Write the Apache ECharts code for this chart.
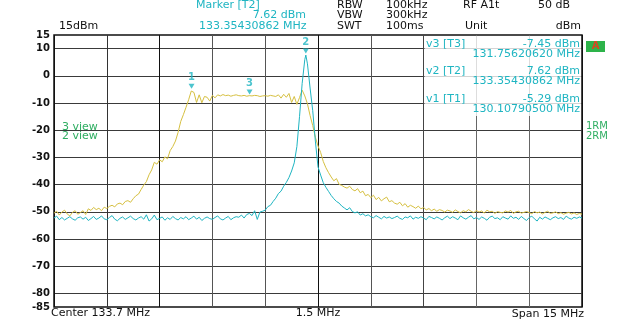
<!DOCTYPE html>
<html>
<head>
<meta charset="utf-8">
<script src="https://cdn.jsdelivr.net/npm/echarts@6/dist/echarts.min.js"></script>
<style>
html, body { margin: 0; padding: 0; background: #fff; }
#chart { width: 640px; height: 320px; }
</style>
</head>
<body>
<div id="chart"></div>
<script>
// sweep: 201 points over the 15 MHz span
const startMHz = 126.2
const stopMHz = 141.2
const stepMHz = 0.075

// trace 1 (yellow), dBm per sweep point
const yellowDbm = [
  -50.5,-49.8,-51.2,-50.1,-49.4,-50.8,-51.5,-50.2,-49.6,-50.9,
  -50.3,-49.6,-51.0,-48.9,-49.5,-48.4,-49.2,-48.7,-49.6,-48.3,
  -48.8,-48.0,-47.6,-48.2,-47.1,-46.8,-47.4,-46.2,-45.9,-46.5,
  -45.2,-44.1,-43.5,-41.8,-40.2,-38.9,-36.4,-34.6,-31.8,-32.5,
  -30.9,-31.6,-29.8,-30.5,-27.5,-26.0,-24.0,-20.8,-16.8,-14.3,
  -11.6,-8.8,-5.6,-6.1,-9.8,-7.0,-9.9,-7.6,-7.9,-9.3,
  -7.2,-8.1,-7.0,-7.4,-6.9,-7.3,-7.1,-7.5,-7.2,-7.0,
  -7.3,-7.4,-7.2,-7.5,-7.3,-7.4,-7.2,-7.3,-7.6,-7.4,
  -7.3,-7.5,-7.2,-7.4,-7.6,-7.0,-8.2,-6.8,-7.9,-6.5,
  -9.8,-7.6,-10.5,-8.0,-5.3,-7.4,-10.3,-14.6,-18.3,-22.6,
  -25.8,-28.2,-31.5,-33.8,-35.6,-37.2,-38.6,-37.8,-39.9,-40.3,
  -40.9,-41.3,-40.6,-41.8,-42.3,-41.5,-43.0,-42.4,-44.1,-43.6,
  -44.8,-43.9,-45.5,-44.7,-46.0,-45.2,-44.6,-46.3,-45.9,-46.8,
  -47.2,-46.5,-47.8,-47.0,-48.3,-47.6,-48.1,-48.7,-47.9,-48.9,
  -48.4,-49.3,-48.8,-49.6,-49.0,-49.8,-49.2,-49.5,-50.1,-49.4,
  -49.7,-50.2,-49.3,-49.9,-50.4,-49.6,-50.0,-49.2,-49.8,-50.3,
  -49.5,-50.1,-49.7,-50.5,-49.4,-50.0,-49.8,-50.6,-49.9,-50.2,
  -50.4,-49.7,-50.1,-49.5,-50.6,-50.0,-49.8,-50.5,-50.2,-49.9,
  -50.3,-50.7,-49.9,-50.4,-50.1,-50.8,-50.2,-49.8,-50.6,-50.4,
  -50.0,-50.7,-50.3,-50.9,-50.5,-50.2,-50.8,-50.4,-51.0,-50.6,-50.9
]

// trace 2 (cyan), dBm per sweep point
const cyanDbm = [
  -52.3,-51.6,-52.9,-52.1,-53.0,-52.4,-51.8,-52.6,-53.1,-52.2,
  -51.9,-52.7,-52.0,-53.2,-52.5,-51.7,-52.8,-52.3,-51.5,-52.6,
  -52.9,-52.1,-51.4,-52.7,-53.3,-52.4,-51.9,-52.8,-52.2,-51.6,
  -52.5,-53.0,-52.3,-51.8,-52.7,-51.1,-53.4,-52.6,-51.2,-52.9,
  -52.4,-51.9,-53.1,-52.2,-52.8,-51.7,-52.5,-53.0,-52.1,-52.6,
  -51.8,-52.9,-52.3,-51.6,-52.7,-52.0,-53.2,-52.4,-51.9,-52.5,
  -52.8,-52.1,-51.5,-52.6,-53.0,-52.3,-51.7,-52.9,-52.2,-51.8,
  -52.0,-51.2,-52.3,-51.0,-50.6,-51.4,-49.6,-52.8,-50.1,-49.8,
  -49.4,-48.1,-47.6,-46.2,-45.0,-43.3,-42.4,-40.6,-39.2,-37.4,
  -35.0,-32.0,-26.0,-15.0,-2.8,6.0,4.4,-4.5,-12.8,-24.0,
  -33.5,-36.5,-39.3,-41.0,-42.5,-44.0,-45.2,-46.2,-46.8,-47.9,
  -48.6,-49.3,-48.5,-49.9,-50.4,-50.0,-51.2,-50.7,-51.5,-51.1,
  -51.8,-52.2,-51.4,-52.0,-52.6,-51.7,-52.3,-51.9,-52.5,-52.1,
  -51.6,-52.4,-52.8,-51.9,-52.2,-51.5,-52.7,-52.0,-52.4,-51.8,
  -52.3,-52.9,-51.7,-52.1,-52.6,-51.9,-52.4,-53.0,-52.2,-51.6,
  -52.5,-51.8,-52.3,-52.9,-51.5,-52.2,-52.7,-52.0,-51.4,-52.6,
  -52.1,-52.8,-51.9,-52.4,-53.1,-52.0,-51.6,-52.5,-52.2,-52.9,
  -51.8,-52.3,-52.7,-51.5,-52.4,-52.0,-52.8,-51.7,-52.5,-53.2,
  -52.1,-51.6,-52.6,-53.4,-52.0,-52.7,-51.9,-52.4,-52.9,-52.2,
  -51.8,-52.5,-52.1,-52.8,-51.6,-52.3,-52.7,-52.0,-52.4,-51.9,-52.3
]

// markers
const markerNames = ['1', '2', '3']
const markerFreqs = [130.107905, 133.35430862, 131.7562062]
const markerDbm = [-5.29, 7.62, -7.45]
const markerTrace = [0, 1, 0]   // 0 = yellow, 1 = cyan

const yTickLabels = [15, 10, 0, -10, -20, -30, -40, -50, -60, -70, -80, -85]

const yellow = '#d6c040'
const cyan = '#1fb5c2'
const green = '#2fae62'

function buildTrace (values, traceNo) {
    const pts = values.map((v, i) => [startMHz + i * stepMHz, v])
    // the trace passes through its own markers
    markerFreqs.forEach((f, m) => {
        if (markerTrace[m] === traceNo) pts.push([f, markerDbm[m]])
    })
    pts.sort((a, b) => a[0] - b[0])
    return pts
}

const chart = echarts.init(document.getElementById('chart'))

const font = (size, weight) => (weight || 'normal') + ' ' + size + 'px "DejaVu Sans"'
const txt = (x, y, text, color, align, size, weight) => ({
    type: 'text', x: x, y: y, z: 10,
    style: { text: text, fill: color || '#111', font: font(size || 11, weight), textAlign: align || 'left', textVerticalAlign: 'middle' }
})

const ySplitColors = []
for (let i = 0; i <= 20; i++) ySplitColors.push(i % 2 === 1 ? '#3a3a3a' : 'rgba(0,0,0,0)')

const option = {
    backgroundColor: '#fff',
    animation: false,
    grid: {
        left: 54, top: 35, width: 528, height: 272,
        show: true, borderColor: '#111', borderWidth: 1.5, backgroundColor: 'transparent'
    },
    xAxis: {
        type: 'value', min: startMHz, max: stopMHz, interval: 1.5,
        axisLabel: { show: false }, axisTick: { show: false }, axisLine: { show: false },
        splitLine: { show: true, showMinLine: true, lineStyle: { width: 1,
            color: ['#111', '#333', '#111', '#555', '#555', '#111', '#555', '#444', '#666', '#666', '#111'] } }
    },
    yAxis: {
        type: 'value', min: -85, max: 15, interval: 5,
        axisLine: { show: false }, axisTick: { show: false },
        axisLabel: {
            margin: 4, color: '#111', fontFamily: 'DejaVu Sans', fontSize: 10, fontWeight: 'bold',
            formatter: v => yTickLabels.indexOf(v) >= 0 ? String(v) : ''
        },
        splitLine: { show: true, showMinLine: true, lineStyle: { width: 1, color: ySplitColors } }
    },
    series: [
        {
            type: 'line', data: buildTrace(yellowDbm, 0), showSymbol: false, symbol: 'none',
            lineStyle: { color: yellow, width: 1 }, z: 3
        },
        {
            type: 'line', data: buildTrace(cyanDbm, 1), showSymbol: false, symbol: 'none',
            lineStyle: { color: cyan, width: 1 }, z: 4
        },
        {
            type: 'scatter', z: 6,
            data: markerNames.map((n, i) => [markerFreqs[i], markerDbm[i], n]),
            symbol: 'triangle', symbolRotate: 180, symbolSize: [6, 5], symbolOffset: [0, -4],
            itemStyle: { color: cyan },
            label: {
                show: true, position: 'top', distance: 1, color: cyan,
                fontFamily: 'DejaVu Sans', fontSize: 10, fontWeight: 'bold',
                formatter: p => p.value[2]
            }
        }
    ],
    graphic: [
        // marker table panel over the upper right of the plot
        { type: 'rect', z: 1, shape: { x: 424.5, y: 36, width: 156.5, height: 80 },
          style: { fill: 'rgba(255,255,255,0.78)' } },
        txt(426, 44, 'v3 [T3]', cyan),
        txt(580, 44, '-7.45 dBm', cyan, 'right'),
        txt(580, 54, '131.75620620 MHz', cyan, 'right'),
        txt(426, 71, 'v2 [T2]', cyan),
        txt(580, 71, '7.62 dBm', cyan, 'right'),
        txt(580, 81, '133.35430862 MHz', cyan, 'right'),
        txt(426, 99, 'v1 [T1]', cyan),
        txt(580, 99, '-5.29 dBm', cyan, 'right'),
        txt(580, 109, '130.10790500 MHz', cyan, 'right'),
        // header
        txt(196, 5, 'Marker [T2]', cyan),
        txt(306, 15, '7.62 dBm', cyan, 'right'),
        txt(199, 26, '133.35430862 MHz', cyan),
        txt(59, 26, '15dBm'),
        txt(337, 5, 'RBW'), txt(386, 5, '100kHz'), txt(463, 5, 'RF A1t'), txt(538, 5, '50 dB'),
        txt(337, 15, 'VBW'), txt(386, 15, '300kHz'),
        txt(337, 26, 'SWT'), txt(386, 26, '100ms'), txt(465, 26, 'Unit'), txt(581, 26, 'dBm', null, 'right'),
        // trace labels
        txt(62, 127, '3 view', green), txt(62, 136, '2 view', green),
        txt(586, 126, '1RM', green, 'left', 10), txt(586, 136, '2RM', green, 'left', 10),
        { type: 'rect', z: 9, shape: { x: 586, y: 41, width: 19, height: 11 }, style: { fill: '#2db34a' } },
        { type: 'text', x: 595.5, y: 46.5, z: 11,
          style: { text: 'A', fill: '#d8461f', font: font(10, 'bold'), textAlign: 'center', textVerticalAlign: 'middle' } },
        // footer
        txt(51, 313, 'Center 133.7 MHz'),
        txt(318, 313, '1.5 MHz', null, 'center'),
        txt(584, 314, 'Span 15 MHz', null, 'right')
    ]
}

chart.setOption(option)
</script>
</body>
</html>
